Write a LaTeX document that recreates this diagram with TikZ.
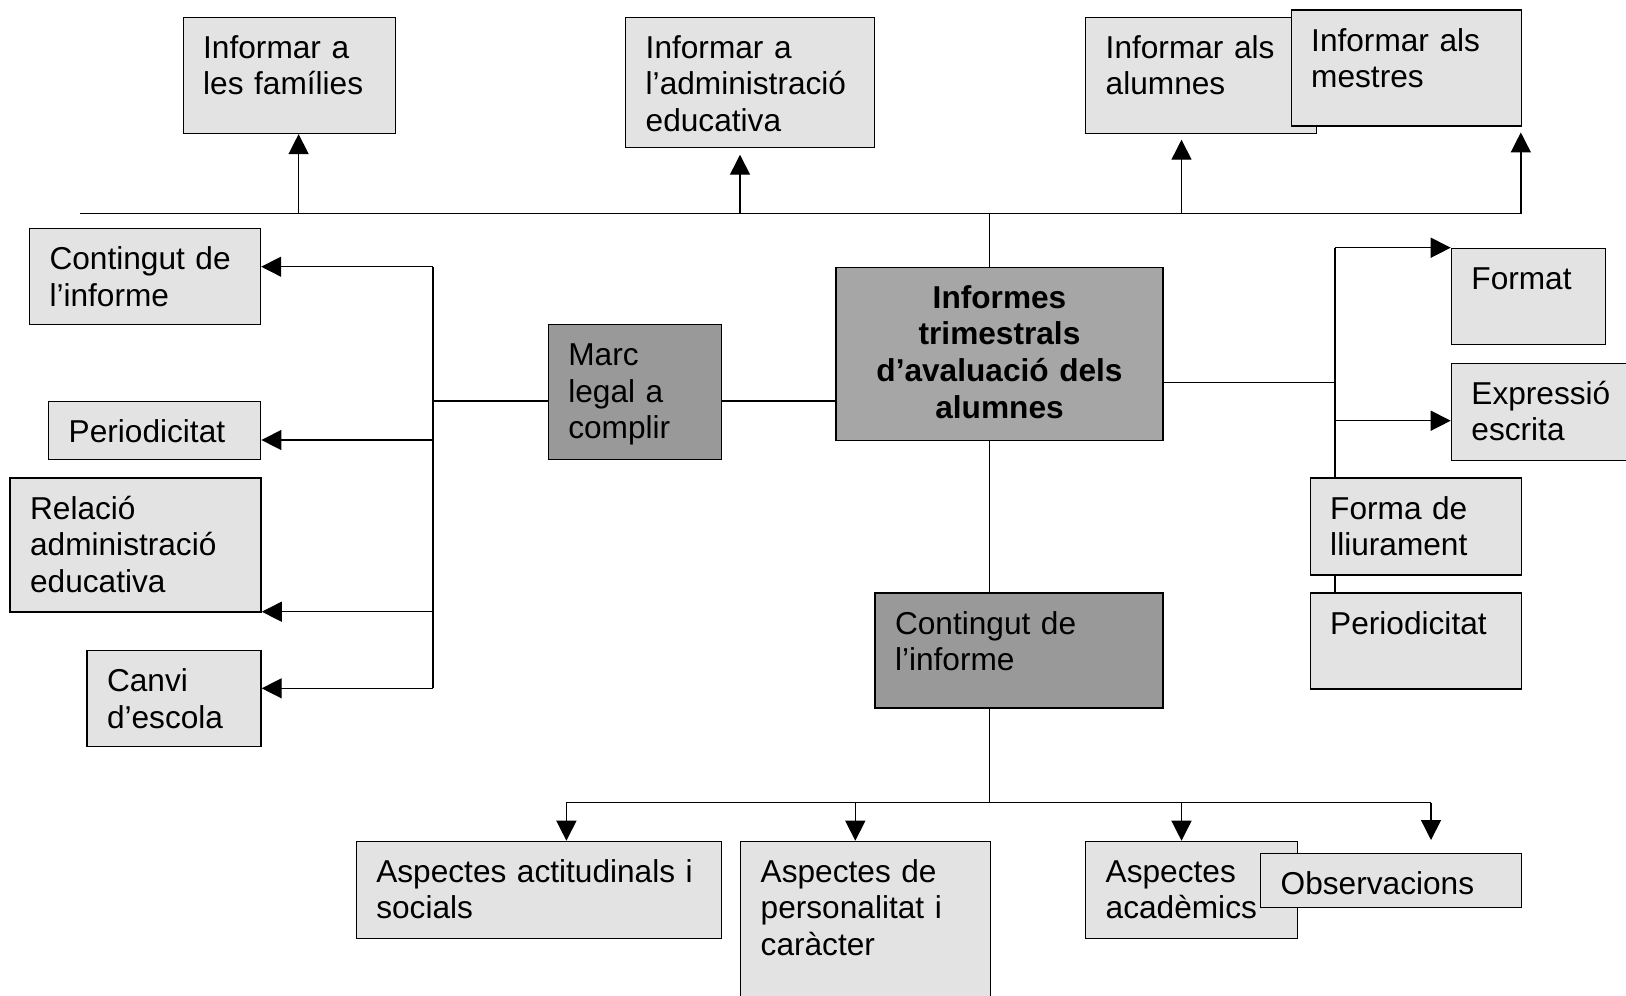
\documentclass[tikz,border=0pt]{standalone}
\usepackage{fontspec}
\setmainfont{Liberation Sans}
\usetikzlibrary{arrows.meta}
\definecolor{boxlight}{rgb}{0.89,0.89,0.89}
\definecolor{boxmid}{rgb}{0.65,0.65,0.65}
\definecolor{boxdark}{rgb}{0.60,0.60,0.60}

\begin{document}
\begin{tikzpicture}
  [x=1cm,y=-1cm,>={Triangle[length=0.2cm,width=0.2cm]},
   every node/.style={draw,fill=boxlight,anchor=north west,align=left,
     inner xsep=0.2cm,inner ysep=0.11cm,text height=0.3cm,
     font=\fontsize{9}{10.4}\selectfont}]

  \useasboundingbox (0,0) rectangle (16.26,9.95);

  % top row
  \node[text width=1.72cm,text depth=0.64cm] (fam) at (1.825,0.167) {Informar a\\les famílies};
  \node[text width=2.09cm,text depth=0.78cm] (adm) at (6.25,0.167) {Informar a\\l’administració\\educativa};
  \node[text width=1.91cm,text depth=0.64cm] (alu) at (10.85,0.167) {Informar als\\alumnes};
  \node[text width=1.90cm,text depth=0.64cm] (mes) at (12.905,0.093) {Informar als\\mestres};

  % left column
  \node[text width=1.91cm,text depth=0.44cm] (cl) at (0.288,2.28) {Contingut de\\l’informe};
  \node[text width=1.72cm,text depth=0.06cm] (pl) at (0.48,4.01) {Periodicitat};
  \node[text width=2.11cm,text depth=0.82cm] (rel) at (0.094,4.773) {Relació\\administració\\educativa};
  \node[text width=1.34cm,text depth=0.44cm] (can) at (0.863,6.50) {Canvi\\d’escola};

  % middle
  \node[style={fill=boxdark},text width=1.33cm,text depth=0.83cm] (marc) at (5.476,3.24) {Marc\\legal a\\complir};
  \node[style={fill=boxmid,align=center},font=\fontsize{9}{10.4}\selectfont\bfseries,
        text width=2.87cm,text depth=1.21cm] (cen) at (8.353,2.667) {Informes\\trimestrals\\d’avaluació dels\\alumnes};
  \node[style={fill=boxdark},text width=2.48cm,text depth=0.63cm] (cc) at (8.743,5.923) {Contingut de\\l’informe};

  % right column
  \node[text width=1.14cm,text depth=0.44cm] (fmt) at (14.507,2.477) {Format};
  \node[text width=1.60cm,text depth=0.45cm] (exp) at (14.507,3.627) {Expressió\\escrita};
  \node[text width=1.71cm,text depth=0.45cm] (fl) at (13.095,4.773) {Forma de\\lliurament};
  \node[text width=1.71cm,text depth=0.44cm] (pr) at (13.095,5.923) {Periodicitat};

  % bottom row
  \node[text width=3.25cm,text depth=0.45cm] (act) at (3.556,8.407) {Aspectes actitudinals i\\socials};
  \node[text width=2.10cm,text depth=1.28cm] (per) at (7.40,8.407) {Aspectes de\\personalitat i\\caràcter};
  \node[text width=1.72cm,text depth=0.45cm] (aca) at (10.85,8.407) {Aspectes\\acadèmics};
  \node[text width=2.21cm,text depth=0.02cm] (obs) at (12.60,8.527) {Observacions};

  \coordinate (tl) at (0.80,2.137);
  \coordinate (tr) at (15.208,2.137);
  \coordinate (tc) at (9.897,2.137);
  \coordinate (t1) at (2.986,2.137);
  \coordinate (t2) at (7.40,2.137);
  \coordinate (t3) at (11.815,2.137);
  \coordinate (l0) at (4.33,4.01);
  \coordinate (l1) at (4.33,2.667);
  \coordinate (l2) at (4.33,4.40);
  \coordinate (l3) at (4.33,6.117);
  \coordinate (l4) at (4.33,6.883);
  \coordinate (r0) at (13.348,3.823);
  \coordinate (r1) at (13.348,2.477);
  \coordinate (r2) at (13.348,4.207);
  \coordinate (b0) at (9.897,8.027);
  \coordinate (b1) at (5.664,8.027);
  \coordinate (b2) at (8.553,8.027);
  \coordinate (b3) at (11.815,8.027);
  \coordinate (b4) at (14.31,8.027);

  % top branch
  \draw (tl) -- (tr);
  \draw (tc) -- (tc |- cen.north);
  \draw[->] (t1) -- (t1 |- fam.south);
  \draw[->,shorten >=0.066cm] (t2) -- (t2 |- adm.south);
  \draw[->,shorten >=0.056cm] (t3) -- (t3 |- alu.south);
  \draw[->,shorten >=0.057cm] (tr) -- (tr |- mes.south);

  % left branch
  \draw (marc.east |- l0) -- (cen.west |- l0);
  \draw (l0) -- (l0 -| marc.west);
  \draw (l1) -- (l4);
  \foreach \from/\to in {l1/cl,l2/pl,l3/rel,l4/can}
    \draw[->] (\from) -- (\from -| \to.east);

  % right branch
  \draw (cen.east |- r0) -- (r0);
  \draw (r1) -- (r1 |- fl.north);
  \draw (r1 |- fl.south) -- (r1 |- pr.north);
  \draw[->] (r1) -- (r1 -| fmt.west);
  \draw[->] (r2) -- (r2 -| exp.west);

  % bottom branch
  \draw (tc |- cen.south) -- (tc |- cc.north);
  \draw (tc |- cc.south) -- (b0);
  \draw (b1) -- (b4);
  \foreach \from/\to in {b1/act,b2/per,b3/aca}
    \draw[->] (\from) -- (\from |- \to.north);
  \draw[->,shorten >=0.127cm] (b4) -- (b4 |- obs.north);
\end{tikzpicture}
\end{document}
